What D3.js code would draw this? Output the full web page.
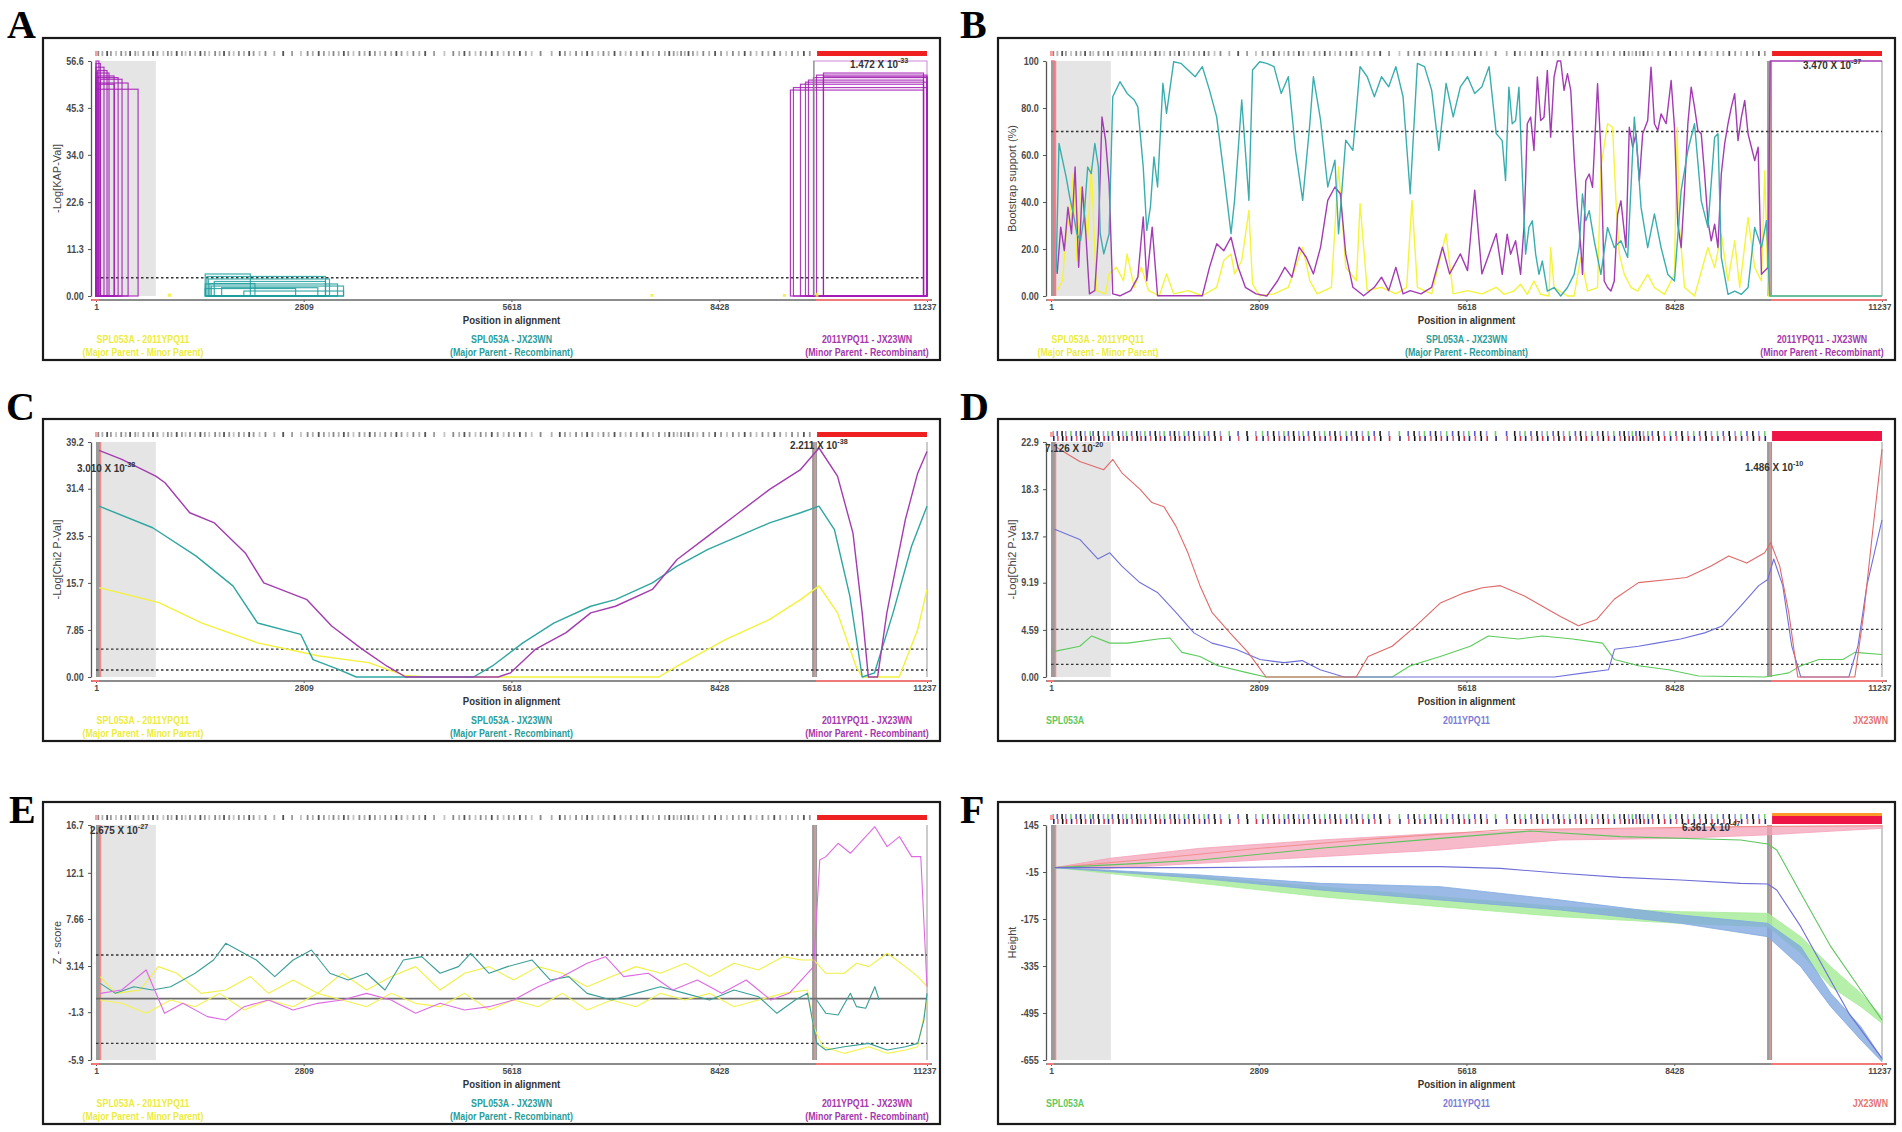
<!DOCTYPE html>
<html>
<head>
<meta charset="utf-8">
<script src="https://cdn.jsdelivr.net/npm/d3@7"></script>
<style>
  body { margin: 0; background: #fff; }
  svg text { font-family: "Liberation Sans", Arial, sans-serif; }
</style>
</head>
<body>
<svg id="fig" width="1902" height="1132"></svg>
<script>
// ---- shared alignment data ----
var seqLength = 11237;
var positionTicks = [1, 2809, 5618, 8428, 11237];
var breakpoint = 9710;
var shadedRegion = [1, 810];
var informativeSites = [20, 75, 140, 190, 260, 330, 390, 450, 520, 560, 630, 700, 760, 820, 900, 960, 1010, 1080,
  1150, 1200, 1260, 1330, 1400, 1460, 1520, 1600, 1660, 1720, 1790, 1850, 1920, 1990, 2060, 2120, 2200, 2280,
  2400, 2520, 2640, 2760, 2850, 2920, 3000, 3070, 3140, 3200, 3270, 3340, 3400, 3470, 3550, 3620, 3690, 3760,
  3830, 3900, 3980, 4050, 4120, 4200, 4280, 4360, 4440, 4560, 4700, 4820, 4900, 4970, 5040, 5120, 5190, 5260,
  5340, 5420, 5500, 5570, 5640, 5720, 5800, 5880, 6000, 6150, 6260, 6330, 6400, 6480, 6560, 6630, 6700, 6780,
  6850, 6920, 7000, 7080, 7150, 7220, 7300, 7380, 7450, 7520, 7600, 7680, 7740, 7800, 7850, 7900, 7950, 8000,
  8060, 8120, 8200, 8280, 8360, 8440, 8520, 8600, 8680, 8760, 8840, 8920, 9000, 9080, 9160, 9240, 9320, 9400,
  9480, 9560, 9640];

var pairLegend = [["SPL053A - 2011YPQ11", "(Major Parent - Minor Parent)"],
  ["SPL053A - JX23WN", "(Major Parent - Recombinant)"],
  ["2011YPQ11 - JX23WN", "(Minor Parent - Recombinant)"]];
var pairColors = ["#ecec3c", "#2a9d9a", "#a538ab"];
var seqLegend = [["SPL053A"], ["2011YPQ11"], ["JX23WN"]];
var seqColors = ["#62c862", "#7c7cd8", "#e27474"];

// ---- A: KAP (rectangles: start, end, value) ----
var kapTicks = ["0.00", "11.3", "22.6", "34.0", "45.3", "56.6"];
var kapPurpleRects = [[1, 40, 56.6], [1, 60, 56.0], [1, 109, 55.1], [20, 150, 54.3], [1, 177, 53.7], [30, 245, 53.0],
  [1, 300, 52.6], [60, 353, 52.2], [1, 435, 51.3], [40, 250, 51.0], [1, 570, 49.8],
  [9390, 11190, 49.6], [9431, 11237, 50.2], [9526, 11190, 51.0], [9594, 11237, 51.5], [9634, 11190, 52.0],
  [9702, 11237, 52.6], [9743, 11237, 53.2], [9837, 11190, 53.7], [9837, 11237, 52.8]];
var kapPaleRects = [[9702, 11237, 56.6]];
var kapTealRects = [[1478, 2088, 5.3], [1500, 3104, 4.7], [1520, 3158, 4.1], [1478, 3267, 2.9], [1560, 3348, 2.4],
  [1600, 3104, 3.5], [1478, 2700, 1.8], [2000, 3348, 1.2], [1540, 2150, 3.0], [1700, 3000, 2.0]];
var kapYellowRects = [[980, 1010, 0.4], [7508, 7530, 0.3], [9297, 9320, 0.3], [9740, 9760, 0.6]];

// ---- B: bootscan ----
var bootTicks = ["0.00", "20.0", "40.0", "60.0", "80.0", "100"];
var bootTeal = [[70, 10], [109, 64.9], [157, 57.8], [206, 50.6], [254, 42.1], [303, 35.0], [351, 26.5], [400, 23.6], [448, 33.6],
  [497, 54.9], [545, 52.1], [594, 64.9], [642, 54.9], [666, 26.5], [715, 17.9], [787, 26.5], [836, 84.8], [933, 91.2],
  [1030, 86.2], [1127, 83.4], [1175, 80.5], [1248, 54.9], [1296, 27.9], [1345, 37.8], [1393, 59.2], [1442, 46.4],
  [1514, 90.5], [1563, 77.7], [1660, 99.7], [1757, 99.0], [1853, 96.2], [1950, 93.3], [2047, 97.6], [2144, 87.6],
  [2241, 76.2], [2338, 52.1], [2435, 26.5], [2483, 40.7], [2580, 83.4], [2677, 40.7], [2726, 96.2], [2823, 99.7],
  [2919, 99.0], [3016, 97.6], [3113, 86.2], [3210, 93.3], [3307, 62.0], [3404, 40.7], [3501, 73.4], [3549, 93.3],
  [3646, 74.8], [3743, 46.4], [3840, 57.8], [3889, 26.5], [3986, 66.3], [4083, 62.0], [4180, 97.6], [4277, 93.3],
  [4373, 84.8], [4470, 93.3], [4567, 89.0], [4664, 97.6], [4761, 84.8], [4858, 43.5], [4955, 99.0], [5052, 97.6],
  [5148, 87.6], [5245, 62.0], [5343, 90.5], [5439, 76.2], [5536, 89.0], [5633, 93.3], [5730, 86.2], [5827, 89.0],
  [5924, 97.6], [6021, 69.1], [6102, 66.1], [6147, 49.1], [6192, 88.9], [6237, 73.3], [6283, 74.7], [6328, 88.9],
  [6373, 51.9], [6418, 17.8], [6463, 29.2], [6509, 32.0], [6554, 17.8], [6599, 9.2], [6644, 14.9], [6712, 2.1],
  [6803, 3.6], [6893, 0], [6984, 3.6], [7074, 9.2], [7142, 20.6], [7187, 43.4], [7232, 32.0], [7278, 36.3],
  [7346, 23.5], [7436, 9.2], [7526, 29.2], [7617, 20.6], [7707, 23.5], [7798, 16.4], [7888, 76.1], [7933, 59.0],
  [7979, 37.7], [8069, 20.6], [8160, 34.9], [8250, 20.6], [8341, 9.2], [8431, 6.4], [8521, 44.8], [8612, 61.9],
  [8702, 73.3], [8793, 40.5], [8883, 29.2], [8974, 67.6], [9019, 69.0], [9064, 16.4], [9155, 0.7], [9245, 2.1],
  [9336, 0.7], [9426, 3.6], [9516, 29.2], [9607, 20.6], [9675, 32.0], [9720, 0], [11237, 0]];
var bootPurple = [[84, 9.4], [133, 29.3], [181, 19.3], [230, 37.8], [278, 26.5], [327, 54.9], [375, 12.2], [424, 46.4],
  [472, 26.5], [521, 0.9], [593, 2.3], [642, 26.5], [690, 76.2], [739, 66.3], [787, 47.8], [836, 0.9], [933, 0.1],
  [1078, 2.3], [1175, 8.0], [1248, 33.6], [1296, 6.5], [1369, 29.3], [1442, 0.1], [1660, 0.1], [2047, 0.1],
  [2144, 12.2], [2241, 22.2], [2338, 19.3], [2435, 25.0], [2532, 12.2], [2629, 3.7], [2774, 0.9], [2919, 0],
  [3065, 6.5], [3162, 12.2], [3259, 8.0], [3356, 20.8], [3452, 16.5], [3549, 9.4], [3646, 20.8], [3743, 40.7],
  [3840, 46.4], [3913, 43.5], [3986, 17.9], [4083, 3.7], [4228, 0.1], [4373, 3.7], [4470, 8.0], [4567, 2.3],
  [4664, 12.2], [4761, 0.9], [4858, 2.3], [5003, 0.9], [5148, 3.7], [5294, 20.8], [5391, 9.4], [5536, 17.9],
  [5633, 10.8], [5730, 45.0], [5827, 9.4], [5924, 17.9], [6021, 26.5], [6102, 9.2], [6169, 26.3], [6215, 17.8],
  [6283, 23.5], [6350, 9.2], [6396, 29.2], [6418, 49.1], [6441, 73.3], [6486, 76.1], [6531, 61.9], [6577, 93.2],
  [6622, 74.7], [6667, 76.1], [6712, 96.0], [6757, 67.6], [6803, 93.2], [6848, 100], [6893, 100], [6938, 87.5],
  [6984, 94.6], [7029, 87.5], [7074, 59.0], [7119, 37.7], [7165, 20.6], [7187, 9.2], [7232, 49.1], [7278, 51.9],
  [7323, 46.2], [7391, 90.3], [7436, 61.9], [7481, 6.4], [7526, 3.6], [7572, 2.1], [7617, 6.4], [7662, 34.9],
  [7707, 40.5], [7775, 20.6], [7820, 71.8], [7866, 63.3], [7911, 69.0], [7956, 49.1], [8001, 69.0], [8069, 74.7],
  [8114, 97.4], [8160, 73.3], [8205, 70.4], [8250, 77.5], [8318, 73.3], [8386, 91.7], [8431, 71.8], [8476, 30.6],
  [8521, 20.6], [8567, 44.8], [8612, 73.3], [8657, 88.9], [8702, 80.4], [8748, 70.4], [8793, 69.0], [8838, 51.9],
  [8883, 32.0], [8928, 23.5], [8974, 30.6], [9019, 20.6], [9064, 51.9], [9109, 64.7], [9155, 73.3], [9200, 80.4],
  [9245, 86.1], [9290, 66.1], [9336, 76.1], [9381, 83.2], [9426, 69.0], [9471, 63.3], [9516, 57.6], [9562, 63.3],
  [9607, 9.2], [9652, 10.7], [9697, 12.1], [9725, 100], [11237, 100]];
var bootYellow = [[84, 2.3], [157, 6.5], [206, 26.5], [254, 33.6], [303, 52.1], [351, 15.1], [400, 46.4], [448, 40.7],
  [497, 23.6], [545, 54.9], [618, 2.3], [739, 0.9], [787, 9.4], [884, 12.2], [981, 6.5], [1030, 17.9], [1127, 3.7],
  [1223, 12.2], [1320, 2.3], [1466, 0.1], [1563, 9.4], [1660, 0.9], [1853, 2.3], [2047, 0.1], [2241, 3.7],
  [2338, 15.1], [2435, 17.9], [2483, 9.4], [2580, 15.1], [2677, 36.4], [2726, 5.1], [2823, 0.1], [3016, 0.9],
  [3210, 3.7], [3404, 20.8], [3501, 6.5], [3598, 0.9], [3792, 3.7], [3889, 54.9], [3986, 12.2], [4131, 6.5],
  [4180, 39.3], [4277, 2.3], [4470, 3.7], [4664, 0.9], [4810, 3.7], [4882, 40.7], [4955, 3.7], [5148, 0.9],
  [5343, 26.5], [5439, 0.9], [5633, 2.3], [5827, 0.9], [6021, 3.7], [6124, 0.7], [6260, 2.1], [6350, 5.0],
  [6441, 0.7], [6531, 6.4], [6622, 0.7], [6735, 0], [6757, 20.6], [6803, 3.6], [6984, 0], [7074, 0], [7165, 16.4],
  [7255, 2.1], [7391, 3.6], [7436, 54.8], [7526, 73.3], [7594, 71.8], [7640, 40.5], [7685, 17.8], [7753, 9.2],
  [7843, 3.6], [7933, 2.1], [8069, 9.2], [8160, 3.6], [8295, 0.7], [8431, 9.2], [8467, 71.8], [8499, 29.2],
  [8567, 3.6], [8702, 0], [8883, 20.6], [8974, 12.1], [9064, 26.3], [9155, 6.4], [9245, 23.5], [9313, 3.6],
  [9426, 33.4], [9516, 12.1], [9607, 6.4], [9652, 53.3], [9697, 0], [11237, 0]];
var bootRed = [[1, 100], [45, 100], [55, 0]];

// ---- C: MaxChi ----
var chiTicks = ["0.00", "7.85", "15.7", "23.5", "31.4", "39.2"];
var chiPurple = [[42, 37.8], [350, 36.3], [809, 33.5], [934, 32.4], [1268, 27.4], [1602, 25.7], [2019, 20.7], [2269, 15.7],
  [2853, 12.9], [3187, 8.5], [3604, 4.6], [3937, 1.8], [4188, 0], [5439, 0], [5606, 0.7], [5940, 4.6], [6357, 7.4],
  [6690, 10.7], [7024, 11.8], [7524, 14.6], [7858, 19.6], [8275, 23.5], [8692, 27.4], [9109, 31.3], [9527, 34.6],
  [9777, 38.2], [10027, 33.5], [10236, 24.0], [10361, 10.7], [10444, 0], [10569, 0], [10694, 10.7], [10945, 26.3],
  [11111, 34.0], [11237, 37.6]];
var chiTeal = [[42, 28.5], [767, 24.9], [1351, 20.2], [1852, 15.2], [2186, 9.0], [2770, 7.1], [2936, 2.9], [3270, 1.3],
  [3520, 0], [4188, 0], [5105, 0], [5356, 1.8], [5773, 5.7], [6190, 9.0], [6690, 11.8], [7024, 12.9], [7524, 15.7],
  [7858, 18.5], [8275, 21.3], [8692, 23.5], [9109, 25.7], [9527, 27.4], [9777, 28.5], [9985, 24.6], [10194, 13.5],
  [10361, 0], [10528, 0.7], [10778, 10.7], [11028, 21.8], [11237, 28.5]];
var chiYellow = [[42, 14.9], [851, 12.4], [1435, 9.0], [2186, 5.7], [3020, 3.5], [3687, 2.4], [4188, 0.2], [4521, 0],
  [7608, 0], [7858, 1.8], [8525, 6.3], [9109, 9.6], [9527, 12.9], [9777, 15.2], [10027, 10.7], [10277, 1.8],
  [10361, 0], [10861, 0], [11111, 7.9], [11237, 14.6]];

// ---- D: Chimaera ----
var chimTicks = ["0.00", "4.59", "9.19", "13.7", "18.3", "22.9"];
var chimRed = [[50, 22.5], [228, 21.7], [390, 21.0], [634, 20.4], [715, 20.2], [837, 21.2], [959, 19.9], [1202, 18.3],
  [1365, 17.0], [1527, 16.6], [1690, 14.7], [1852, 12.1], [2015, 8.9], [2177, 6.3], [2421, 4.3], [2665, 2.4],
  [2908, 0], [4127, 0], [4289, 2.0], [4614, 3.0], [4939, 5.0], [5264, 7.2], [5589, 8.2], [5833, 8.7], [6077, 8.9],
  [6402, 7.9], [6645, 6.9], [6889, 5.9], [7133, 5.0], [7377, 5.6], [7620, 7.6], [7945, 9.2], [8351, 9.5],
  [8595, 9.7], [8920, 10.8], [9164, 11.8], [9408, 11.1], [9651, 12.1], [9732, 13.1], [9854, 10.8], [9976, 6.3],
  [10098, 0], [10870, 0], [10992, 6.3], [11114, 14.4], [11237, 22.2]];
var chimBlue = [[50, 14.4], [390, 13.4], [634, 11.5], [796, 12.1], [959, 10.8], [1202, 9.2], [1446, 8.2], [1690, 6.3],
  [1934, 4.3], [2177, 3.3], [2502, 2.7], [2827, 1.7], [3152, 1.4], [3396, 1.6], [3640, 0.7], [3965, 0], [6808, 0],
  [7214, 0.4], [7539, 0.7], [7620, 2.7], [7945, 3.0], [8189, 3.3], [8514, 3.7], [8839, 4.3], [9083, 5.0],
  [9326, 6.9], [9570, 8.9], [9692, 9.5], [9773, 11.5], [9895, 8.9], [10017, 3.0], [10139, 0], [10789, 0],
  [10911, 3.0], [11032, 8.9], [11237, 15.3]];
var chimGreen = [[50, 2.5], [390, 3.0], [552, 4.0], [796, 3.3], [1040, 3.3], [1446, 3.7], [1609, 3.8], [1771, 2.4],
  [2015, 2.0], [2259, 1.1], [2665, 0.4], [2908, 0], [4614, 0], [4858, 1.1], [5264, 2.0], [5670, 3.0], [5914, 4.0],
  [6321, 3.7], [6645, 4.0], [7052, 3.7], [7458, 3.3], [7620, 1.7], [7945, 1.1], [8351, 0.7], [8758, 0.1],
  [9651, 0], [9976, 0.4], [10139, 1.1], [10383, 1.7], [10708, 1.7], [10870, 2.4], [11237, 2.2]];

// ---- E: Z-score ----
var zTicks = ["-5.9", "-1.3", "3.14", "7.66", "12.1", "16.7"];
var zPurple = [[58, 0.51], [348, 0.83], [679, 2.76], [927, -1.41], [1176, -0.45], [1507, -1.73], [1755, -2.05],
  [2004, -0.77], [2335, -0.13], [2666, -1.09], [2997, -0.45], [3329, -0.13], [3660, 0.51], [3991, -0.13],
  [4322, -1.41], [4653, -0.45], [4985, -1.09], [5316, -0.77], [5647, -0.13], [5978, 1.15], [6309, 2.12],
  [6641, 3.4], [6889, 4.04], [7137, 2.12], [7469, 2.44], [7800, 0.83], [8131, 1.79], [8462, 0.51], [8793, 1.79],
  [9125, -0.13], [9373, 0.51], [9621, 2.44], [9704, 3.08], [9787, 13.34], [9870, 13.66], [10035, 14.94],
  [10201, 13.98], [10367, 15.26], [10532, 16.54], [10698, 14.62], [10864, 15.58], [11029, 13.66], [11153, 13.66],
  [11237, 1.15]];
var zTeal = [[58, 1.47], [265, 0.51], [513, 1.15], [762, 0.83], [1010, 1.15], [1341, 2.44], [1590, 3.72], [1755, 5.32],
  [1921, 4.68], [2169, 3.72], [2418, 2.12], [2666, 3.72], [2915, 4.68], [3163, 2.44], [3411, 1.79], [3660, 2.44],
  [3908, 0.83], [4157, 3.72], [4405, 4.04], [4653, 2.44], [4902, 3.08], [5067, 4.36], [5316, 2.44], [5564, 3.08],
  [5895, 3.72], [6144, 1.79], [6392, 2.12], [6641, 0.51], [6972, -0.13], [7303, 0.51], [7634, 1.15], [7966, 0.51],
  [8297, -0.13], [8628, 0.83], [8959, 0.19], [9207, -1.41], [9456, -0.13], [9621, 0.51], [9745, -4.3],
  [9870, -4.94], [10118, -4.62], [10449, -4.3], [10698, -4.94], [10946, -4.62], [11112, -4.3], [11195, -2.05],
  [11237, 0.51]];
var zTealPartial = [[9745, -0.13], [9870, -1.41], [10035, -1.57], [10201, 0.51], [10284, -0.77], [10408, -0.93],
  [10532, 1.15], [10590, -0.13]];
var zYellow = [[58, 2.12], [265, 0.51], [596, 0.83], [845, 3.08], [1093, 2.44], [1424, 0.51], [1755, 0.83],
  [2087, 2.12], [2335, 0.51], [2666, 1.79], [2997, 0.51], [3329, 2.44], [3660, 0.83], [3991, 2.12], [4322, 3.08],
  [4653, 0.83], [4985, 2.44], [5316, 3.08], [5647, 1.79], [5978, 3.08], [6309, 2.44], [6641, 1.15], [6972, 2.12],
  [7303, 3.08], [7634, 2.44], [7966, 3.4], [8297, 2.12], [8628, 3.4], [8959, 2.76], [9290, 4.04], [9539, 3.72],
  [9704, 3.72], [9870, 2.44], [10118, 2.44], [10284, 3.4], [10449, 3.08], [10698, 4.36], [10946, 3.08],
  [11112, 2.12], [11237, 1.15]];
var zYellowLow = [[58, -0.13], [348, -0.45], [679, -1.41], [1010, -0.13], [1341, -0.77], [1673, 0.51], [2004, -1.09],
  [2335, -0.13], [2666, -0.77], [2997, 0.51], [3329, -0.13], [3660, -0.77], [3991, 0.51], [4322, -0.45],
  [4653, -0.77], [4985, 0.51], [5316, -1.09], [5647, -0.13], [5978, -0.77], [6309, 0.51], [6641, -1.09],
  [6972, -0.13], [7303, -0.77], [7634, 0.51], [7966, -0.13], [8297, 0.51], [8628, -0.77], [8959, -0.13],
  [9290, 0.51], [9621, 0.83], [9704, -2.69], [9828, -4.62], [10118, -5.26], [10449, -4.62], [10698, -5.26],
  [10946, -4.94], [11112, -4.62], [11237, -0.13]];

// ---- F: height (lines, and bands as [pos, high, low]) ----
var heightTicks = ["-655", "-495", "-335", "-175", "-15", "145"];
var heightRed = [[50, 0], [1202, 25.8], [2827, 65.6], [4452, 99.6], [6077, 128.0], [7702, 133.7], [9326, 139.3], [11237, 142.7]];
var heightGreen = [[50, 0], [1202, 14.5], [2015, 25.8], [3640, 65.6], [5264, 99.6], [6483, 124.6], [7702, 105.3],
  [9326, 93.9], [9692, 80.3], [9814, 59.9], [10139, -87.6], [10545, -269.2], [10951, -416.7], [11237, -518.9]];
var heightBlue = [[50, 0], [2015, 0], [3640, 3.2], [5264, 3.2], [6077, -2.5], [6889, -19.5], [7702, -33.2], [8514, -42.2],
  [9326, -53.6], [9692, -55.9], [9814, -76.3], [10139, -201.1], [10464, -348.6], [10789, -496.2], [11237, -649.4]];
var heightPinkBand = [[50, 0, 0], [796, 31.5, -2.5], [2015, 65.6, 14.5], [3640, 93.9, 37.2], [5264, 116.6, 59.9],
  [6889, 128.0, 93.9], [8514, 133.7, 99.6], [9651, 139.3, 111.0], [11237, 141.6, 133.7]];
var heightBlueBand = [[50, 0, 0], [2015, -25.2, -36.6], [3640, -53.6, -76.3], [5264, -64.9, -110.3], [6889, -110.3, -144.4],
  [8514, -161.4, -189.8], [9692, -189.8, -235.2], [10139, -269.2, -337.3], [10545, -428.1, -473.5],
  [10951, -541.5, -586.9], [11237, -649.4, -660.7]];
var heightGreenBand = [[50, 0, 0], [2015, -30.9, -53.6], [3640, -64.9, -99], [5264, -99, -133], [6889, -133, -167.1],
  [8514, -150, -189.8], [9692, -155.7, -201.1], [10139, -235.2, -291.9], [10545, -337.3, -405.4],
  [10951, -428.1, -473.5], [11237, -507.5, -530.2]];

var svg = d3.select("#fig");
var FW = 897, FH = 322;
var NARROW = 0.84;   // the program's labels use a condensed face

function tickDomain(t) {
  var v = t.map(Number);
  return [v[0], v[v.length - 1]];
}

// text drawn in a horizontally condensed style
function narrowText(g, tx, ty, str, size, anchor, fill, bold) {
  return g.append("text")
    .attr("transform", "translate(" + tx + "," + ty + ") scale(" + NARROW + ",1)")
    .attr("text-anchor", anchor).attr("font-size", size)
    .attr("font-weight", bold ? "bold" : "normal").attr("fill", fill).text(str);
}

function annotate(g, ax, ay, mant, exp) {
  var t = g.append("text")
    .attr("transform", "translate(" + ax + "," + ay + ") scale(0.9,1)")
    .attr("font-size", 11).attr("font-weight", "bold").attr("fill", "#333");
  t.append("tspan").text(mant + " X 10");
  t.append("tspan").attr("dy", -5).attr("font-size", 8).text(exp);
}

function drawPanel(p) {
  var fx = p.fx, fy = p.fy;
  var x0 = fx + 53, x1 = fx + 884;
  var yTop = fy + 23, yBot = fy + 258;
  var x = d3.scaleLinear().domain([1, seqLength]).range([x0, x1]);
  var y = d3.scaleLinear().domain(tickDomain(p.ticks)).range([yBot, yTop]);
  var g = svg.append("g");

  g.append("rect").attr("x", fx).attr("y", fy).attr("width", FW).attr("height", FH)
    .attr("fill", "#fff").attr("stroke", "#1a1a1a").attr("stroke-width", 2.2);
  svg.append("text").attr("x", p.lx).attr("y", p.ly).text(p.letter)
    .style("font-family", "'Liberation Serif','Times New Roman',serif")
    .attr("font-weight", "bold").attr("font-size", 40).attr("fill", "#000");

  // sequence strip on top
  var strip = g.append("g");
  if (p.colorStrip) {
    var topCols = ["#6fd06f", "#5a5ad0", "#222", "#9a9ae8"];
    var botCols = ["#d8304c", "#2a2a80", "#e0607a", "#111"];
    informativeSites.forEach(function (s, i) {
      strip.append("rect").attr("x", x(s)).attr("y", fy + 12).attr("width", 1.6).attr("height", 5)
        .attr("fill", topCols[i % 4]);
      strip.append("rect").attr("x", x(s) + 0.6).attr("y", fy + 17).attr("width", 1.6).attr("height", 5)
        .attr("fill", botCols[(i + 1) % 4]);
    });
    strip.append("rect").attr("x", x(breakpoint) + 3).attr("y", fy + 12).attr("width", x1 - x(breakpoint) - 3)
      .attr("height", 10).attr("fill", "#ee1446");
    if (p.letter === "F") {
      strip.append("rect").attr("x", x(breakpoint) + 3).attr("y", fy + 11).attr("width", x1 - x(breakpoint) - 3)
        .attr("height", 3).attr("fill", "#ff9a2a");
    }
  } else {
    var greys = ["#8a8a8a", "#b0b0b0", "#555", "#9c9c9c", "#c4c4c4"];
    informativeSites.forEach(function (s, i) {
      strip.append("rect").attr("x", x(s)).attr("y", fy + 13).attr("width", 1.8).attr("height", 5)
        .attr("fill", greys[i % 5]);
    });
    strip.append("rect").attr("x", x(breakpoint) + 3).attr("y", fy + 13).attr("width", x1 - x(breakpoint) - 3)
      .attr("height", 5).attr("fill", "#ee2020");
  }
  strip.append("rect").attr("x", x0 - 1).attr("y", fy + 13).attr("width", 3).attr("height", 5).attr("fill", "#f4a0a0");

  // shading and breakpoint bars
  g.append("rect").attr("x", x(shadedRegion[0])).attr("y", yTop)
    .attr("width", x(shadedRegion[1]) - x(shadedRegion[0])).attr("height", yBot - yTop).attr("fill", "#e5e5e5");
  if (p.bars) {
    g.append("rect").attr("x", x0).attr("y", yTop).attr("width", 4).attr("height", yBot - yTop).attr("fill", "#9b9b9b");
    g.append("line").attr("x1", x0 + 4.5).attr("x2", x0 + 4.5).attr("y1", yTop).attr("y2", yBot)
      .attr("stroke", "#f08c8c").attr("stroke-width", 1.5);
    g.append("rect").attr("x", x(breakpoint) - 2).attr("y", yTop).attr("width", 5).attr("height", yBot - yTop)
      .attr("fill", "#9b9b9b");
    g.append("line").attr("x1", x(breakpoint) + 1).attr("x2", x(breakpoint) + 1).attr("y1", yTop).attr("y2", yBot)
      .attr("stroke", "#f0a0a0").attr("stroke-width", 1);
    g.append("line").attr("x1", x1).attr("x2", x1).attr("y1", yTop).attr("y2", yBot)
      .attr("stroke", "#a8a8a8").attr("stroke-width", 1.2);
  }

  (p.dashed || []).forEach(function (v) {
    g.append("line").attr("x1", x0).attr("x2", x1).attr("y1", y(v)).attr("y2", y(v))
      .attr("stroke", "#333").attr("stroke-width", 1.4).attr("stroke-dasharray", "2.5,2.5");
  });
  if (p.zeroLine) {
    g.append("line").attr("x1", x0).attr("x2", x1).attr("y1", y(0)).attr("y2", y(0))
      .attr("stroke", "#6e6e6e").attr("stroke-width", 1.8);
  }

  // bands (F)
  (p.bands || []).forEach(function (b) {
    g.append("path").datum(b.data)
      .attr("d", d3.area().x(function (d) { return x(d[0]); })
        .y0(function (d) { return y(d[2]); }).y1(function (d) { return y(d[1]); }))
      .attr("fill", b.color).attr("fill-opacity", b.opacity).attr("stroke", b.color).attr("stroke-width", 0.8);
  });

  // rectangles (A)
  (p.rects || []).forEach(function (r) {
    g.selectAll(null).data(r.data).enter().append("rect")
      .attr("x", function (d) { return x(d[0]); })
      .attr("y", function (d) { return y(d[2]); })
      .attr("width", function (d) { return x(d[1]) - x(d[0]); })
      .attr("height", function (d) { return yBot - y(d[2]); })
      .attr("fill", "none").attr("stroke", r.color).attr("stroke-width", r.width || 1.2)
      .attr("stroke-opacity", r.opacity || 0.85);
  });
  if (p.letter === "A") {
    g.append("line").attr("x1", x(breakpoint)).attr("x2", x(breakpoint)).attr("y1", yTop).attr("y2", yBot)
      .attr("stroke", "#999").attr("stroke-width", 1.2);
  }

  var line = d3.line().x(function (d) { return x(d[0]); }).y(function (d) { return y(d[1]); });
  (p.series || []).forEach(function (s) {
    g.append("path").datum(s.data).attr("d", line).attr("fill", "none")
      .attr("stroke", s.color).attr("stroke-width", s.width || 1.4).attr("stroke-linejoin", "round");
  });

  // axes
  var yAxis = d3.axisLeft(y).tickValues(p.ticks.map(Number))
    .tickFormat(function (d, i) { return p.ticks[i]; }).tickSize(3).tickPadding(5).tickSizeOuter(0);
  var ya = g.append("g").attr("transform", "translate(" + (x0 - 5) + ",0)").call(yAxis);
  ya.select(".domain").attr("stroke", "#555").attr("stroke-width", 1.3);
  ya.selectAll("line").attr("stroke", "#555");
  ya.selectAll("text").attr("font-size", 10).attr("font-weight", "bold").attr("fill", "#4a4a4a")
    .attr("transform", "scale(0.9,1)");

  var xAxis = d3.axisBottom(x).tickValues(positionTicks).tickFormat(d3.format("d"))
    .tickSize(2).tickPadding(1).tickSizeOuter(0);
  var xa = g.append("g").attr("transform", "translate(0," + (fy + 262) + ")").call(xAxis);
  xa.select(".domain").remove();
  xa.selectAll("line").attr("stroke", "#555");
  xa.selectAll("text").attr("font-size", 9.5).attr("font-weight", "bold").attr("fill", "#4a4a4a")
    .attr("transform", "scale(0.9,1)");
  xa.selectAll(".tick").filter(function (d) { return d === seqLength; }).select("text")
    .attr("text-anchor", "end").attr("x", 10);
  g.append("line").attr("x1", x0 - 5).attr("x2", x1 + 5).attr("y1", fy + 262).attr("y2", fy + 262)
    .attr("stroke", "#666").attr("stroke-width", 1.5);
  g.append("line").attr("x1", x(breakpoint) + 2).attr("x2", x1 + 3).attr("y1", fy + 262).attr("y2", fy + 262)
    .attr("stroke", "#f07a7a").attr("stroke-width", 2);
  g.append("line").attr("x1", x0 - 4).attr("x2", x0 + 3).attr("y1", fy + 262).attr("y2", fy + 262)
    .attr("stroke", "#f07a7a").attr("stroke-width", 2);

  narrowText(g, (x0 + x1) / 2, fy + 286, "Position in alignment", 11.5, "middle", "#333", true);
  g.append("text").attr("transform", "translate(" + (fx + 18) + "," + ((yTop + yBot) / 2) + ") rotate(-90)")
    .attr("text-anchor", "middle").attr("font-size", 11).attr("fill", "#444").text(p.yTitle);

  // legend
  var legX = p.seqLegend ? [x0 - 5, (x0 + x1) / 2, x1 + 6] : [x0 + 47, (x0 + x1) / 2, x1 - 60];
  var anchors = p.seqLegend ? ["start", "middle", "end"] : ["middle", "middle", "middle"];
  var labels = p.seqLegend ? seqLegend : pairLegend;
  var cols = p.seqLegend ? seqColors : pairColors;
  labels.forEach(function (lab, i) {
    lab.forEach(function (txt, j) {
      narrowText(g, legX[i], fy + 305 + j * 13, txt, 10.5, anchors[i], cols[i], true);
    });
  });

  (p.notes || []).forEach(function (n) {
    annotate(g, x(n[0]) + n[1], fy + n[2], n[3], n[4]);
  });
}

var L = 43, R = 998;
drawPanel({
  letter: "A", lx: 7, ly: 38, fx: L, fy: 38, ticks: kapTicks, yTitle: "-Log[KAP-Val]",
  dashed: [4.4], bars: false,
  rects: [
    { data: kapPaleRects, color: "#c57ad0", width: 1, opacity: 0.9 },
    { data: kapPurpleRects, color: "#a21cb4" },
    { data: kapTealRects, color: "#1e9e9e" },
    { data: kapYellowRects, color: "#f0f03a", width: 1.5 }
  ],
  notes: [[breakpoint, 36, 30, "1.472", "-33"]]
});
drawPanel({
  letter: "B", lx: 960, ly: 38, fx: R, fy: 38, ticks: bootTicks, yTitle: "Bootstrap support (%)",
  dashed: [70], bars: true,
  series: [
    { data: bootYellow, color: "#f4f43c" },
    { data: bootPurple, color: "#a43bb4" },
    { data: bootTeal, color: "#3aaeae" },
    { data: bootRed, color: "#f07a8a", width: 1.6 }
  ],
  notes: [[breakpoint, 34, 31, "3.470", "-37"]]
});
drawPanel({
  letter: "C", lx: 6, ly: 420, fx: L, fy: 419, ticks: chiTicks, yTitle: "-Log[Chi2 P-Val]",
  dashed: [4.65, 1.16], bars: true,
  series: [
    { data: chiYellow, color: "#f2f23c" },
    { data: chiTeal, color: "#2fa6a0" },
    { data: chiPurple, color: "#a23cb0" }
  ],
  notes: [[1, -19, 53, "3.010", "-38"], [breakpoint, -24, 30, "2.211", "-38"]]
});
drawPanel({
  letter: "D", lx: 960, ly: 420, fx: R, fy: 419, ticks: chimTicks, yTitle: "-Log[Chi2 P-Val]",
  dashed: [4.64, 1.23], bars: true, colorStrip: true, seqLegend: true,
  series: [
    { data: chimGreen, color: "#5ccc5c", width: 1.1 },
    { data: chimBlue, color: "#7070dc", width: 1.1 },
    { data: chimRed, color: "#e06868", width: 1.1 }
  ],
  notes: [[1, -6, 33, "7.126", "-20"], [breakpoint, -24, 52, "1.486", "-10"]]
});
drawPanel({
  letter: "E", lx: 9, ly: 823, fx: L, fy: 802, ticks: zTicks, yTitle: "Z - score",
  dashed: [4.2, -4.3], zeroLine: true, bars: true,
  series: [
    { data: zYellowLow, color: "#f4f450", width: 1.1 },
    { data: zYellow, color: "#f0f048", width: 1.1 },
    { data: zTeal, color: "#3a9e98", width: 1.1 },
    { data: zTealPartial, color: "#3a9e98", width: 1.1 },
    { data: zPurple, color: "#de6ae2", width: 1.1 }
  ],
  notes: [[1, -6, 32, "2.675", "-27"]]
});
drawPanel({
  letter: "F", lx: 960, ly: 823, fx: R, fy: 802, ticks: heightTicks, yTitle: "Height",
  bars: true, colorStrip: true, seqLegend: true,
  bands: [
    { data: heightPinkBand, color: "#f4a3ba", opacity: 0.75 },
    { data: heightGreenBand, color: "#a9ec9a", opacity: 0.85 },
    { data: heightBlueBand, color: "#82a9de", opacity: 0.8 }
  ],
  series: [
    { data: heightRed, color: "#f29090", width: 1.1 },
    { data: heightGreen, color: "#5fc45f", width: 1.1 },
    { data: heightBlue, color: "#6e6ed6", width: 1.1 }
  ],
  notes: [[breakpoint, -87, 29, "6.361", "-47"]]
});
</script>
</body>
</html>
